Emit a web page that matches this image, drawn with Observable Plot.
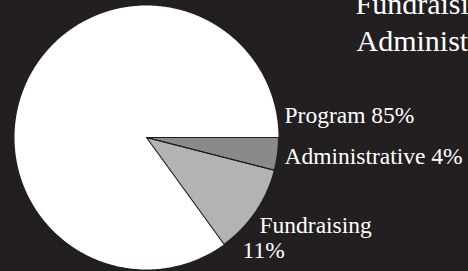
<!DOCTYPE html>
<html><head><meta charset="utf-8">
<script src="https://cdn.jsdelivr.net/npm/d3@7"></script>
<script src="https://cdn.jsdelivr.net/npm/@observablehq/plot@0.6"></script>
<style>html,body{margin:0;padding:0;background:#231f20;overflow:hidden}</style>
</head><body><div id="chart"></div>
<script>
// Data (in drawing order, clockwise from 3 o'clock)
const categories = ["Administrative", "Fundraising", "Program"];
const shares = [4, 11, 85];
const topLegend = ["Fundraising 11%", "Administrative 4%"];

// Styling / layout
const W = 468, H = 271;
const CX = 146, CY = 137, R = 132;
const sliceColors = ["#8a8a8a", "#b3b3b3", "#ffffff"];
const BG = "#231f20";
const FONT = "'Liberation Serif', 'Times New Roman', serif";

const pie = d3.pie().sort(null).value(d => d.v)
  .startAngle(Math.PI / 2).endAngle(Math.PI / 2 + 2 * Math.PI);
const arcs = pie(categories.map((c, i) => ({c, v: shares[i]})));

const polyRows = [];
arcs.forEach(a => {
  const cat = a.data.c;
  polyRows.push({cat, x: CX, y: CY});
  const n = Math.max(2, Math.ceil((a.endAngle - a.startAngle) / (Math.PI / 360)));
  for (let k = 0; k <= n; k++) {
    const t = a.startAngle + (a.endAngle - a.startAngle) * k / n;
    polyRows.push({cat, x: CX + R * Math.sin(t), y: CY - R * Math.cos(t)});
  }
  polyRows.push({cat, x: CX, y: CY});
});

const fs = 23.5, fsTop = 30;
const lbl = Object.fromEntries(categories.map((c, i) => [c, shares[i] + "%"]));
// label rows: [text, x, baselineY]
const sliceLabels = [
  {t: `Program ${lbl.Program}`, x: 284, b: 122},
  {t: `Administrative ${lbl.Administrative}`, x: 284, b: 163},
  {t: `Fundraising`, x: 259, b: 232},
  {t: lbl.Fundraising, x: 242, b: 257}
];
const topRows = [
  {t: topLegend[0], x: 355, b: 13},
  {t: topLegend[1], x: 356, b: 50}
];

const chart = Plot.plot({
  width: W, height: H,
  margin: 0,
  x: {type: "linear", domain: [0, W], range: [0, W], axis: null},
  y: {type: "linear", domain: [0, H], range: [0, H], axis: null},
  color: {domain: categories, range: sliceColors},
  style: {background: BG, color: "white"},
  marks: [
    Plot.line(polyRows, {x: "x", y: "y", z: "cat", fill: "cat", stroke: "none", curve: "linear"}),
    Plot.line(polyRows.filter(d => d.cat !== "Program"), {x: "x", y: "y", z: "cat", stroke: "#1d1b1b", strokeWidth: 1.1, curve: "linear"}),
    Plot.text(sliceLabels, {x: "x", y: d => d.b - 0.32 * fs, text: "t", textAnchor: "start", fill: "white", fontSize: fs, fontFamily: FONT}),
    Plot.text(topRows, {x: "x", y: d => d.b - 0.32 * fsTop, text: "t", textAnchor: "start", fill: "white", fontSize: fsTop, fontFamily: FONT})
  ]
});
document.getElementById("chart").appendChild(chart);
</script>
</body></html>
